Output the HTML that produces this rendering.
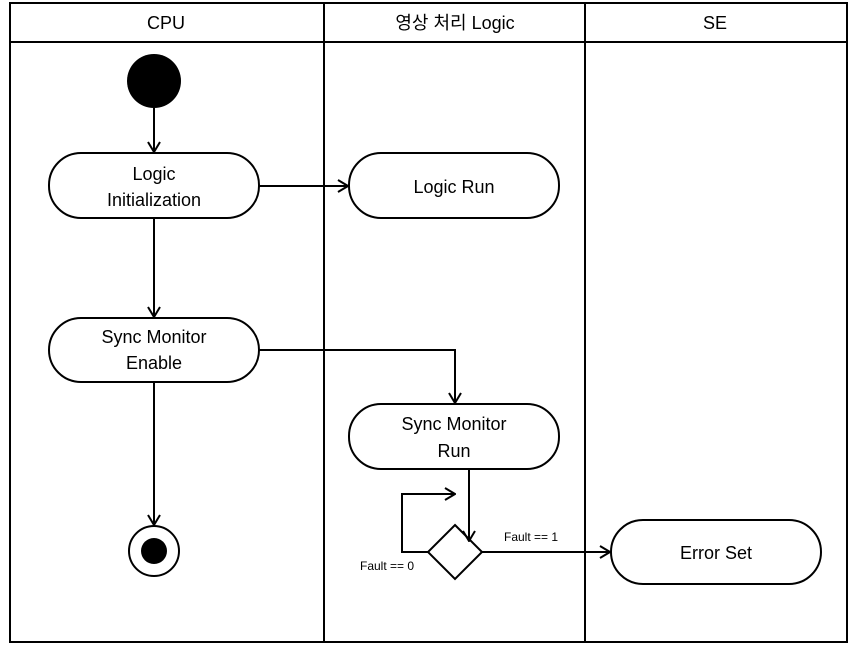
<!DOCTYPE html>
<html><head><meta charset="utf-8"><style>body{margin:0;background:#fff}svg{display:block}</style></head><body>
<svg width="857" height="649" viewBox="0 0 857 649" xmlns="http://www.w3.org/2000/svg" font-family="'Liberation Sans','Noto Sans CJK KR',sans-serif">
<defs><marker id="a" markerWidth="12" markerHeight="14" refX="11" refY="7" orient="auto" markerUnits="userSpaceOnUse"><path d="M1,1 L11,7 L1,13" fill="none" stroke="#000" stroke-width="2"/></marker></defs>
<g fill="none" stroke="#000" stroke-width="2">
<rect x="10" y="3" width="837" height="639"/>
<line x1="10" y1="42" x2="847" y2="42"/>
<line x1="324" y1="3" x2="324" y2="642"/>
<line x1="585" y1="3" x2="585" y2="642"/>
<rect x="49" y="153" width="210" height="65" rx="32"/>
<rect x="349" y="153" width="210" height="65" rx="32"/>
<rect x="49" y="318" width="210" height="64" rx="32"/>
<rect x="349" y="404" width="210" height="65" rx="32"/>
<rect x="611" y="520" width="210" height="64" rx="32"/>
<circle cx="154" cy="551" r="25"/>
<path d="M455,525 L482,552 L455,579 L428,552 Z"/>
<line x1="154" y1="108" x2="154" y2="152" marker-end="url(#a)"/>
<line x1="154" y1="218" x2="154" y2="317" marker-end="url(#a)"/>
<line x1="259" y1="186" x2="348" y2="186" marker-end="url(#a)"/>
<polyline points="259,350 455,350 455,403" marker-end="url(#a)"/>
<line x1="154" y1="382" x2="154" y2="525" marker-end="url(#a)"/>
<line x1="469" y1="469" x2="469" y2="541" marker-end="url(#a)"/>
<polyline points="428,552 402,552 402,494 455,494" marker-end="url(#a)"/>
<line x1="482" y1="552" x2="610" y2="552" marker-end="url(#a)"/>
</g>
<circle cx="154" cy="81" r="27"/>
<circle cx="154" cy="551" r="13"/>
<g font-size="18" text-anchor="middle" fill="#000">
<text x="166" y="29">CPU</text>
<text x="455" y="29">영상 처리 Logic</text>
<text x="715" y="29">SE</text>
<text x="154" y="180">Logic</text>
<text x="154" y="206">Initialization</text>
<text x="454" y="193">Logic Run</text>
<text x="154" y="343">Sync Monitor</text>
<text x="154" y="369">Enable</text>
<text x="454" y="430">Sync Monitor</text>
<text x="454" y="457">Run</text>
<text x="716" y="559">Error Set</text>
</g>
<g font-size="12" fill="#000">
<text x="504" y="541">Fault == 1</text>
<text x="360" y="570">Fault == 0</text>
</g>
</svg>
</body></html>
